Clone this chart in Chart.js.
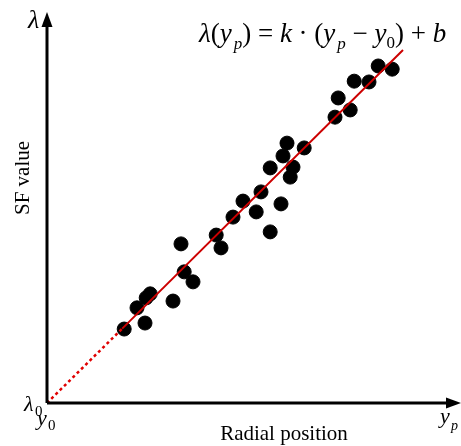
<!DOCTYPE html>
<html lang="en">
<head>
<meta charset="UTF-8">
<title>SF value vs radial position</title>
<script src="https://cdn.jsdelivr.net/npm/chart.js"></script>
<style>
  html, body { margin: 0; padding: 0; background: #fff; overflow: hidden; }
  #wrap { width: 461px; height: 446px; }
  canvas { display: block; }
</style>
</head>
<body>
<div id="wrap"><canvas id="sfChart"></canvas></div>
<script>
// measured points (radial position, SF value) in arbitrary units
const radialPos = [1.93, 2.45, 2.25, 2.48, 2.58, 3.15, 3.35, 3.43, 3.65, 4.23,
                   4.35, 4.65, 4.90, 5.23, 5.35, 5.58, 5.85, 5.58, 5.90, 6.00,
                   6.15, 6.08, 6.43, 7.20, 7.58, 7.28, 7.68, 8.05, 8.28, 8.63];
const sfValue   = [1.85, 2.00, 2.38, 2.63, 2.73, 2.55, 3.98, 3.28, 3.03, 4.20,
                   3.88, 4.65, 5.05, 4.78, 5.28, 4.28, 4.98, 5.88, 6.18, 6.50,
                   5.90, 5.65, 6.38, 7.15, 7.33, 7.63, 8.05, 8.03, 8.43, 8.35];

// fitted line lambda = k*(y - y0) + b, dotted near the origin
const fitX = [0, 1.88, 8.90];
const fitY = [0, 1.86, 8.83];

const xMax = 10.35;
const yMax = 9.78;

const points = radialPos.map((x, i) => ({ x: x, y: sfValue[i] }));

// axes with arrows and the text labels
const decor = {
  id: 'decor',
  afterDraw(chart) {
    const ctx = chart.ctx;
    const xs = chart.scales.x, ys = chart.scales.y;
    const ox = xs.getPixelForValue(0), oy = ys.getPixelForValue(0);
    const right = xs.getPixelForValue(xMax), top = ys.getPixelForValue(yMax);
    ctx.save();
    ctx.strokeStyle = '#000';
    ctx.fillStyle = '#000';
    ctx.lineWidth = 3;
    ctx.beginPath();
    ctx.moveTo(ox, oy); ctx.lineTo(ox, top + 10);
    ctx.moveTo(ox, oy); ctx.lineTo(right - 10, oy);
    ctx.stroke();
    // arrow heads
    ctx.beginPath();
    ctx.moveTo(ox, top); ctx.lineTo(ox - 5.5, top + 15); ctx.lineTo(ox + 5.5, top + 15); ctx.closePath();
    ctx.fill();
    ctx.beginPath();
    ctx.moveTo(right, oy); ctx.lineTo(right - 15, oy - 5.5); ctx.lineTo(right - 15, oy + 5.5); ctx.closePath();
    ctx.fill();

    const serif = '"Liberation Serif", "Times New Roman", serif';
    ctx.textBaseline = 'alphabetic';
    // formula
    let x = 199;
    const base = 42;
    const seg = (t, f, dy, dx) => { ctx.font = f; ctx.fillText(t, x + (dx || 0), base + (dy || 0)); x += ctx.measureText(t).width + (dx || 0); };
    const it = 'italic 27px ' + serif, up = '27px ' + serif, sub = 'italic 17px ' + serif, subUp = '17px ' + serif;
    seg('\u03bb', it); seg('(', up); seg('y', it); seg('p', sub, 7, 2); seg(') = ', up);
    seg('k', it); seg(' \u00b7 (', up); seg('y', it); seg('p', sub, 7, 2); seg(' \u2212 ', up);
    seg('y', it); seg('0', subUp, 6); seg(') + ', up); seg('b', it);

    // lambda at y axis
    ctx.font = 'italic 26px ' + serif;
    ctx.fillText('\u03bb', 28, 28);
    // lambda0 and y0 at the origin
    ctx.font = 'italic 22px ' + serif;
    ctx.fillText('\u03bb', 24, 411);
    ctx.font = '15px ' + serif;
    ctx.fillText('0', 35, 416);
    ctx.font = 'italic 22px ' + serif;
    ctx.fillText('y', 37, 425);
    ctx.font = '15px ' + serif;
    ctx.fillText('0', 48, 430);
    // y_p at x axis end
    ctx.font = 'italic 22px ' + serif;
    ctx.fillText('y', 440, 423);
    ctx.font = 'italic 14px ' + serif;
    ctx.fillText('p', 451, 430);

    // axis titles
    ctx.font = '21px ' + serif;
    ctx.textAlign = 'center';
    ctx.fillText('Radial position', 284, 440);
    ctx.translate(29, 178);
    ctx.rotate(-Math.PI / 2);
    ctx.fillText('SF value', 0, 0);
    ctx.restore();
  }
};

new Chart(document.getElementById('sfChart'), {
  type: 'scatter',
  data: {
    datasets: [
      {
        label: 'fit (extrapolated)',
        type: 'line',
        data: [{ x: fitX[0], y: fitY[0] }, { x: fitX[1], y: fitY[1] }],
        borderColor: '#e00000',
        borderWidth: 2.5,
        borderDash: [3, 3],
        pointRadius: 0,
        fill: false
      },
      {
        label: 'fit',
        type: 'line',
        data: [{ x: fitX[1], y: fitY[1] }, { x: fitX[2], y: fitY[2] }],
        borderColor: '#cc0000',
        borderWidth: 2,
        pointRadius: 0,
        fill: false
      },
      {
        label: 'SF value',
        data: points,
        backgroundColor: '#000',
        borderColor: '#000',
        pointRadius: 7,
        pointHoverRadius: 7
      }
    ]
  },
  options: {
    responsive: true,
    maintainAspectRatio: false,
    animation: false,
    layout: { autoPadding: false, padding: { left: 47, right: 0, top: 12, bottom: 43 } },
    plugins: { legend: { display: false }, tooltip: { enabled: false } },
    scales: {
      x: { type: 'linear', min: 0, max: xMax, display: false },
      y: { type: 'linear', min: 0, max: yMax, display: false }
    }
  },
  plugins: [decor]
});
</script>
</body>
</html>
